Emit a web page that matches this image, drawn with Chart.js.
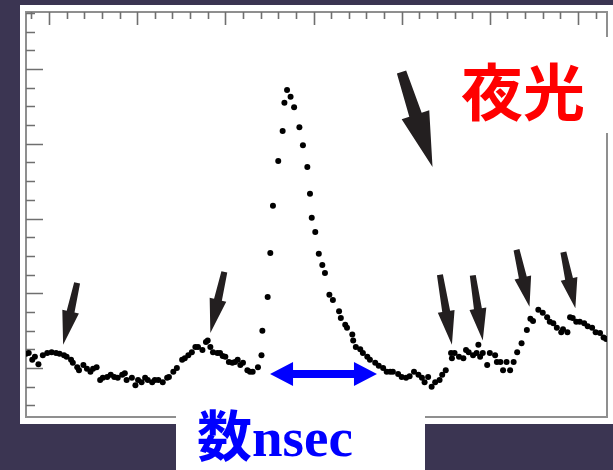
<!DOCTYPE html>
<html>
<head>
<meta charset="utf-8">
<script src="https://cdn.jsdelivr.net/npm/chart.js@4.4.1/dist/chart.umd.min.js"></script>
<style>
  html, body { margin: 0; padding: 0; background: #3b3552; overflow: hidden; }
  canvas { display: block; }
</style>
</head>
<body>
<canvas id="glow" width="613" height="470"></canvas>
<script>
// ---------- Data: time (ns) vs. intensity (arb. units) ----------
const preTime = [-2.6, -2.3, -1.9, -1.6, -1.2, -0.7, -0.2, 0.3, 0.8, 1.2, 1.7, 2.0, 2.5, 2.7, 3.2, 3.4, 3.9, 4.3, 4.7, 5.0,
  5.4, 5.8, 6.1, 6.6, 7.0, 7.4, 7.8, 8.3, 8.6, 8.8, 9.4, 9.8, 10.1, 10.5, 10.9, 11.2, 11.7, 12.0, 12.4, 12.9,
  13.4, 13.6, 14.1, 14.5, 15.1, 15.4, 15.8, 16.2, 16.6, 16.9, 17.4, 17.8, 18.0, 18.3, 18.6, 19.1, 19.4, 19.7, 20.0, 20.4,
  20.8, 21.1, 21.4, 21.7, 22.0, 22.5, 22.8, 23.1, 23.7];
const preCounts = [11.9, 12.0, 11.1, 11.5, 10.5, 11.7, 12.0, 12.1, 12.0, 11.9, 11.7, 11.5, 11.1, 10.7, 10.1, 9.7, 10.4, 9.9, 9.5, 9.9,
  10.1, 8.4, 8.7, 8.8, 9.1, 8.8, 8.7, 9.1, 9.3, 8.4, 8.7, 7.7, 8.4, 8.1, 8.7, 8.4, 8.1, 8.4, 8.4, 8.1,
  8.7, 8.8, 9.5, 10.0, 11.1, 11.3, 11.7, 12.1, 12.8, 12.8, 12.4, 13.5, 13.7, 12.8, 12.1, 12.0, 12.0, 11.6, 11.5, 10.8,
  10.7, 10.8, 11.1, 10.4, 10.7, 9.7, 9.5, 9.5, 10.1];

const peakTime = [24.1, 24.2, 24.8, 25.1, 25.4, 26.0, 26.5, 26.7, 27.0, 27.4, 27.8, 28.4, 28.8, 29.3, 29.6, 29.8, 30.2, 30.6, 31.0, 31.3, 31.8];
const peakCounts = [11.7, 15.0, 19.5, 25.4, 31.7, 37.7, 41.7, 45.5, 47.2, 46.3, 44.9, 42.2, 39.8, 36.9, 33.3, 30.1, 28.2, 25.3, 23.8, 22.7, 19.8];

const postTime = [32.2, 32.9, 33.1, 33.6, 33.8, 34.4, 34.5, 34.8, 35.3, 35.6, 36.1, 36.4, 37.0, 37.4, 37.9, 38.3, 38.7, 39.0, 39.6, 40.0,
  40.5, 40.9, 41.4, 41.9, 42.3, 42.6, 43.0, 43.4, 43.8, 44.3, 44.6, 45.0, 45.6, 45.7, 46.0, 46.5, 47.0, 47.3, 47.6, 48.1,
  48.5, 48.7, 48.9, 49.2, 49.7, 50.0, 50.6, 50.8, 51.2, 51.5, 51.9, 52.3, 52.7, 53.1, 53.6, 54.2, 54.6, 54.9, 55.5, 56.0,
  56.5, 56.8, 57.2, 57.6, 58.1, 58.3, 58.8, 59.1, 59.4, 59.8, 60.2, 60.7, 61.1, 61.6, 62.0, 62.5, 62.9, 63.2];
const postCounts = [19.1, 17.6, 16.7, 15.8, 15.4, 14.5, 13.7, 12.8, 12.5, 12.0, 11.5, 11.1, 10.7, 10.3, 10.0, 9.5, 9.5, 9.5, 9.2, 8.8,
  8.7, 8.9, 9.5, 9.1, 8.7, 8.1, 8.8, 7.5, 8.1, 8.4, 9.1, 9.7, 12.0, 11.3, 12.0, 11.5, 11.3, 12.4, 12.1, 11.7,
  12.0, 13.1, 11.5, 12.0, 10.4, 12.0, 11.7, 10.8, 10.8, 9.7, 10.8, 9.7, 10.8, 12.1, 13.3, 15.1, 16.6, 16.3, 17.8, 17.4,
  16.8, 16.2, 16.0, 15.4, 14.8, 15.2, 14.8, 16.8, 16.7, 16.2, 16.2, 16.0, 15.6, 15.4, 14.8, 14.7, 14.1, 13.9];

// ---------- Axes ----------
const X_MIN = -2.61, X_MAX = 63.29;
const Y_MIN = 3.45, Y_MAX = 57.63;
const xMajorTicks = [0, 10, 20, 30, 40, 50, 60];
const xMinorStep = 2;
const yMajorTicks = [10, 20, 30, 40, 50];
const yMinorStep = 2.5;

// ---------- Annotations ----------
// arrow tips (time, counts) and the width marker of the flash
const arrowTips = [[1.6, 13.1], [18.3, 14.7], [43.5, 36.9], [45.7, 13.1], [49.2, 13.7], [54.5, 18.2], [59.7, 18.0]];
const widthMarker = { from: 25.07, to: 37.2, level: 9.2 };
const flashLabel = "夜光";
const widthLabel = "数nsec";

// tail offsets in px + shape (shaft, head width, head length)
const arrowShapes = [
  [14, -62, 8, 17, 34], [14, -61, 8, 17, 34], [-31, -95, 13, 29, 55],
  [-12, -70, 8, 17, 34], [-10, -65, 8, 17, 32], [-13, -57, 8, 17, 30], [-12, -56, 8, 17, 30]
];

function zip(xs, ys) { return xs.map((x, i) => ({ x, y: ys[i] })); }
const points = [].concat(zip(preTime, preCounts), zip(peakTime, peakCounts), zip(postTime, postCounts));

// taper: shaft starts narrower at the tail (like the scanned arrows)
function drawArrow(ctx, x0, y0, x1, y1, shaftW, headW, headL, color, taper) {
  const ang = Math.atan2(y1 - y0, x1 - x0);
  const len = Math.hypot(x1 - x0, y1 - y0);
  const tailW = shaftW * (taper || 1);
  ctx.save();
  ctx.translate(x0, y0);
  ctx.rotate(ang);
  ctx.beginPath();
  ctx.moveTo(0, -tailW / 2);
  ctx.lineTo(len - headL, -shaftW / 2);
  ctx.lineTo(len - headL, -headW / 2);
  ctx.lineTo(len, 0);
  ctx.lineTo(len - headL, headW / 2);
  ctx.lineTo(len - headL, shaftW / 2);
  ctx.lineTo(0, tailW / 2);
  ctx.closePath();
  ctx.fillStyle = color;
  ctx.fill();
  ctx.restore();
}

// ---------- Plugin: panel, frame with inward ticks ----------
const framePlugin = {
  id: 'frame',
  beforeDraw(chart) {
    const { ctx, chartArea: a } = chart;
    const xs = chart.scales.x, ys = chart.scales.y;
    ctx.save();
    ctx.fillStyle = '#3b3552';
    ctx.fillRect(0, 0, chart.width, chart.height);
    ctx.fillStyle = '#ffffff';
    ctx.fillRect(a.left - 6, a.top - 7, chart.width - (a.left - 6), (a.bottom + 7) - (a.top - 7));

    ctx.strokeStyle = '#8f8f8f';
    ctx.lineWidth = 2;
    ctx.strokeRect(a.left, a.top, a.right - a.left, a.bottom - a.top);

    ctx.strokeStyle = '#6f6f6f';
    ctx.lineWidth = 1.6;
    ctx.beginPath();
    // top axis ticks (pointing down)
    for (let v = Math.ceil(X_MIN / xMinorStep) * xMinorStep; v <= X_MAX; v += xMinorStep) {
      const px = Math.round(xs.getPixelForValue(v)) + 0.5;
      const len = xMajorTicks.includes(v) ? 13 : 7;
      ctx.moveTo(px, a.top);
      ctx.lineTo(px, a.top + len);
    }
    // left axis ticks (pointing right)
    for (let v = Math.ceil(Y_MIN / yMinorStep) * yMinorStep; v <= Y_MAX; v += yMinorStep) {
      const py = Math.round(ys.getPixelForValue(v)) + 0.5;
      const len = yMajorTicks.includes(v) ? 17 : 9;
      ctx.moveTo(a.left, py);
      ctx.lineTo(a.left + len, py);
    }
    ctx.stroke();
    ctx.restore();
  },
  afterDatasetsDraw(chart) {
    const { ctx, chartArea: a } = chart;
    const xs = chart.scales.x, ys = chart.scales.y;
    ctx.save();

    // white label boxes
    ctx.fillStyle = '#ffffff';
    ctx.fillRect(176, a.bottom - 12, 249, chart.height - (a.bottom - 12));
    ctx.fillRect(458, 37, chart.width - 458, 96);

    // black arrows
    arrowTips.forEach(([t, c], i) => {
      const [dx, dy, sw, hw, hl] = arrowShapes[i];
      const tx = xs.getPixelForValue(t), ty = ys.getPixelForValue(c);
      drawArrow(ctx, tx + dx, ty + dy, tx, ty, sw, hw, hl, '#231f20', 0.75);
    });

    // blue double arrow (flash width)
    const bx0 = xs.getPixelForValue(widthMarker.from);
    const bx1 = xs.getPixelForValue(widthMarker.to);
    const by = ys.getPixelForValue(widthMarker.level);
    const mid = (bx0 + bx1) / 2;
    drawArrow(ctx, mid, by, bx0, by, 8, 24, 23, '#0000ff');
    drawArrow(ctx, mid - 1, by, bx1, by, 8, 24, 23, '#0000ff');

    // labels
    ctx.textAlign = 'left';
    ctx.textBaseline = 'middle';
    ctx.fillStyle = '#ff0000';
    ctx.font = 'bold 62px "Noto Sans CJK JP"';
    ctx.fillText(flashLabel, 461, 92);

    ctx.textBaseline = 'alphabetic';
    ctx.fillStyle = '#0000ff';
    ctx.font = 'bold 55px "Liberation Serif", "Noto Sans CJK JP"';
    ctx.fillText(widthLabel, 197, 456);
    ctx.restore();
  }
};

const chart = new Chart(document.getElementById('glow').getContext('2d'), {
  type: 'scatter',
  data: {
    datasets: [{
      label: 'intensity',
      data: points,
      pointRadius: 3,
      pointHoverRadius: 3,
      backgroundColor: '#000000',
      borderWidth: 0
    }]
  },
  options: {
    responsive: false,
    animation: false,
    devicePixelRatio: 1,
    layout: { padding: { left: 26, top: 12, right: 6, bottom: 53 } },
    plugins: { legend: { display: false }, tooltip: { enabled: false } },
    scales: {
      x: { type: 'linear', min: X_MIN, max: X_MAX, display: false },
      y: { type: 'linear', min: Y_MIN, max: Y_MAX, display: false }
    }
  },
  plugins: [framePlugin]
});
</script>
</body>
</html>
